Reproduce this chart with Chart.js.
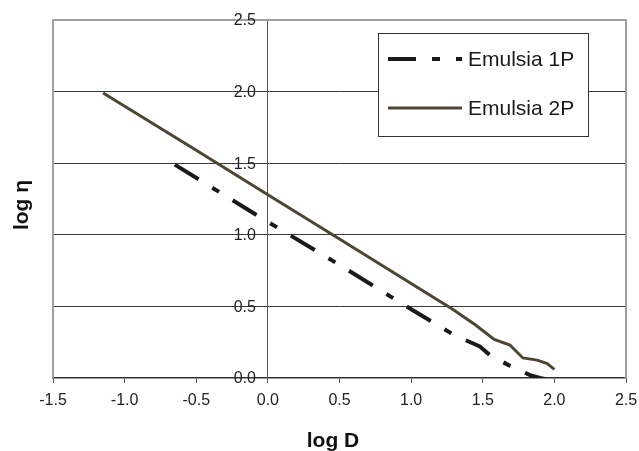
<!DOCTYPE html>
<html>
<head>
<meta charset="utf-8">
<script src="https://cdn.jsdelivr.net/npm/chart.js@4/dist/chart.umd.min.js"></script>
<style>
  html, body { margin: 0; padding: 0; background: #fff; }
  #wrap { width: 639px; height: 451px; position: relative; }
</style>
</head>
<body>
<div id="wrap"><canvas id="c" width="639" height="451"></canvas></div>
<script>
// ---- data ----
const seriesNames = ["Emulsia 1P", "Emulsia 2P"];
const logD_1P = [-0.65, 0.0, 0.5, 1.0, 1.3, 1.48, 1.55, 1.68, 1.83, 1.9, 1.95];
const logEta_1P = [1.49, 1.09, 0.79, 0.48, 0.30, 0.22, 0.16, 0.09, 0.02, 0.0, -0.01];
const logD_2P = [-1.15, -0.5, 0.0, 0.5, 1.0, 1.29, 1.45, 1.58, 1.69, 1.78, 1.88, 1.95, 2.0];
const logEta_2P = [1.99, 1.59, 1.28, 0.97, 0.66, 0.48, 0.37, 0.27, 0.23, 0.14, 0.125, 0.10, 0.06];
const xTicks = [-1.5, -1.0, -0.5, 0.0, 0.5, 1.0, 1.5, 2.0, 2.5];
const yTicks = [0.0, 0.5, 1.0, 1.5, 2.0, 2.5];
const xTitle = "log D";
const yTitle = "log η";

const FONT = "'Liberation Sans', Arial, sans-serif";
const toPts = (xs, ys) => xs.map((x, i) => ({ x: x, y: ys[i] }));

const datasets = [
  {
    label: seriesNames[0],
    data: toPts(logD_1P, logEta_1P),
    borderColor: '#1a1a1a',
    borderWidth: 4,
    borderDash: [28, 16, 8, 16],
    borderCapStyle: 'butt',
    pointRadius: 0,
    tension: 0,
    fill: false
  },
  {
    label: seriesNames[1],
    data: toPts(logD_2P, logEta_2P),
    borderColor: '#4d4732',
    borderWidth: 3,
    pointRadius: 0,
    tension: 0,
    fill: false
  }
];

const framePlugin = {
  id: 'frame',
  beforeDatasetsDraw(chart) {
    const { ctx, chartArea: a } = chart;
    ctx.save();
    ctx.strokeStyle = '#a0a0a0';
    ctx.lineWidth = 2;
    ctx.beginPath();
    ctx.moveTo(a.left, a.bottom);
    ctx.lineTo(a.left, a.top);
    ctx.lineTo(a.right, a.top);
    ctx.lineTo(a.right, a.bottom);
    ctx.stroke();
    ctx.restore();
  },
  afterDraw(chart) {
    const { ctx } = chart;
    // y tick labels, left of the y axis drawn at x = 0
    const ys = chart.scales.y, xs = chart.scales.x;
    const axisX = xs.getPixelForValue(0);
    ctx.save();
    ctx.fillStyle = '#222';
    ctx.font = "16px " + FONT;
    ctx.textAlign = 'right';
    ctx.textBaseline = 'middle';
    yTicks.forEach(v => {
      ctx.fillText(v.toFixed(1), axisX - 12, ys.getPixelForValue(v) + 1);
    });
    ctx.restore();

    ctx.save();
    // axis titles
    ctx.fillStyle = '#111';
    ctx.font = "bold 21px " + FONT;
    ctx.textAlign = 'center';
    ctx.textBaseline = 'middle';
    ctx.fillText(xTitle, 333, 441);
    ctx.translate(22, 205);
    ctx.rotate(-Math.PI / 2);
    ctx.fillText(yTitle, 0, 0);
    ctx.restore();

    // legend
    ctx.save();
    const bx = 378.5, by = 33.5, bw = 210, bh = 103;
    ctx.fillStyle = '#fff';
    ctx.fillRect(bx, by, bw, bh);
    ctx.strokeStyle = '#333';
    ctx.lineWidth = 1;
    ctx.strokeRect(bx, by, bw, bh);
    const rows = [59, 108];
    chart.data.datasets.forEach((ds, i) => {
      const y = rows[i];
      ctx.save();
      ctx.strokeStyle = ds.borderColor;
      ctx.lineWidth = ds.borderWidth;
      ctx.lineCap = 'butt';
      ctx.setLineDash(ds.borderDash || []);
      ctx.beginPath();
      ctx.moveTo(388, y);
      ctx.lineTo(462, y);
      ctx.stroke();
      ctx.restore();
      ctx.fillStyle = '#1a1a1a';
      ctx.font = "21px " + FONT;
      ctx.textAlign = 'left';
      ctx.textBaseline = 'middle';
      ctx.fillText(ds.label, 468, y + 1);
    });
    ctx.restore();
  }
};

new Chart(document.getElementById('c'), {
  type: 'line',
  data: { datasets: datasets },
  plugins: [framePlugin],
  options: {
    responsive: false,
    animation: false,
    layout: { padding: { left: 53, right: 13, top: 20, bottom: 0 } },
    plugins: { legend: { display: false }, tooltip: { enabled: false } },
    scales: {
      x: {
        type: 'linear',
        position: 'bottom',
        min: xTicks[0],
        max: xTicks[xTicks.length - 1],
        afterBuildTicks: s => { s.ticks = xTicks.map(v => ({ value: v })); },
        afterFit: s => { s.height = 73; s.paddingLeft = 0; s.paddingRight = 0; },
        grid: { drawOnChartArea: false, drawTicks: true, tickLength: 5, color: '#555' },
        border: { display: true, color: '#333', width: 1.5 },
        ticks: {
          font: { family: FONT, size: 16 },
          color: '#222',
          padding: 8,
          maxRotation: 0,
          callback: v => Number(v).toFixed(1)
        }
      },
      y: {
        type: 'linear',
        position: { x: 0 },
        min: yTicks[0],
        max: yTicks[yTicks.length - 1],
        afterBuildTicks: s => { s.ticks = yTicks.map(v => ({ value: v })); },
        grid: {
          drawOnChartArea: true,
          drawTicks: true,
          tickLength: 5,
          color: ctx => (ctx.tick && (ctx.tick.value === 2.5 || ctx.tick.value === 0)) ? 'rgba(0,0,0,0)' : '#3a3a3a',
          lineWidth: 1
        },
        border: { display: true, color: '#555', width: 1 },
        ticks: { display: false }
      }
    }
  }
});
</script>
</body>
</html>
